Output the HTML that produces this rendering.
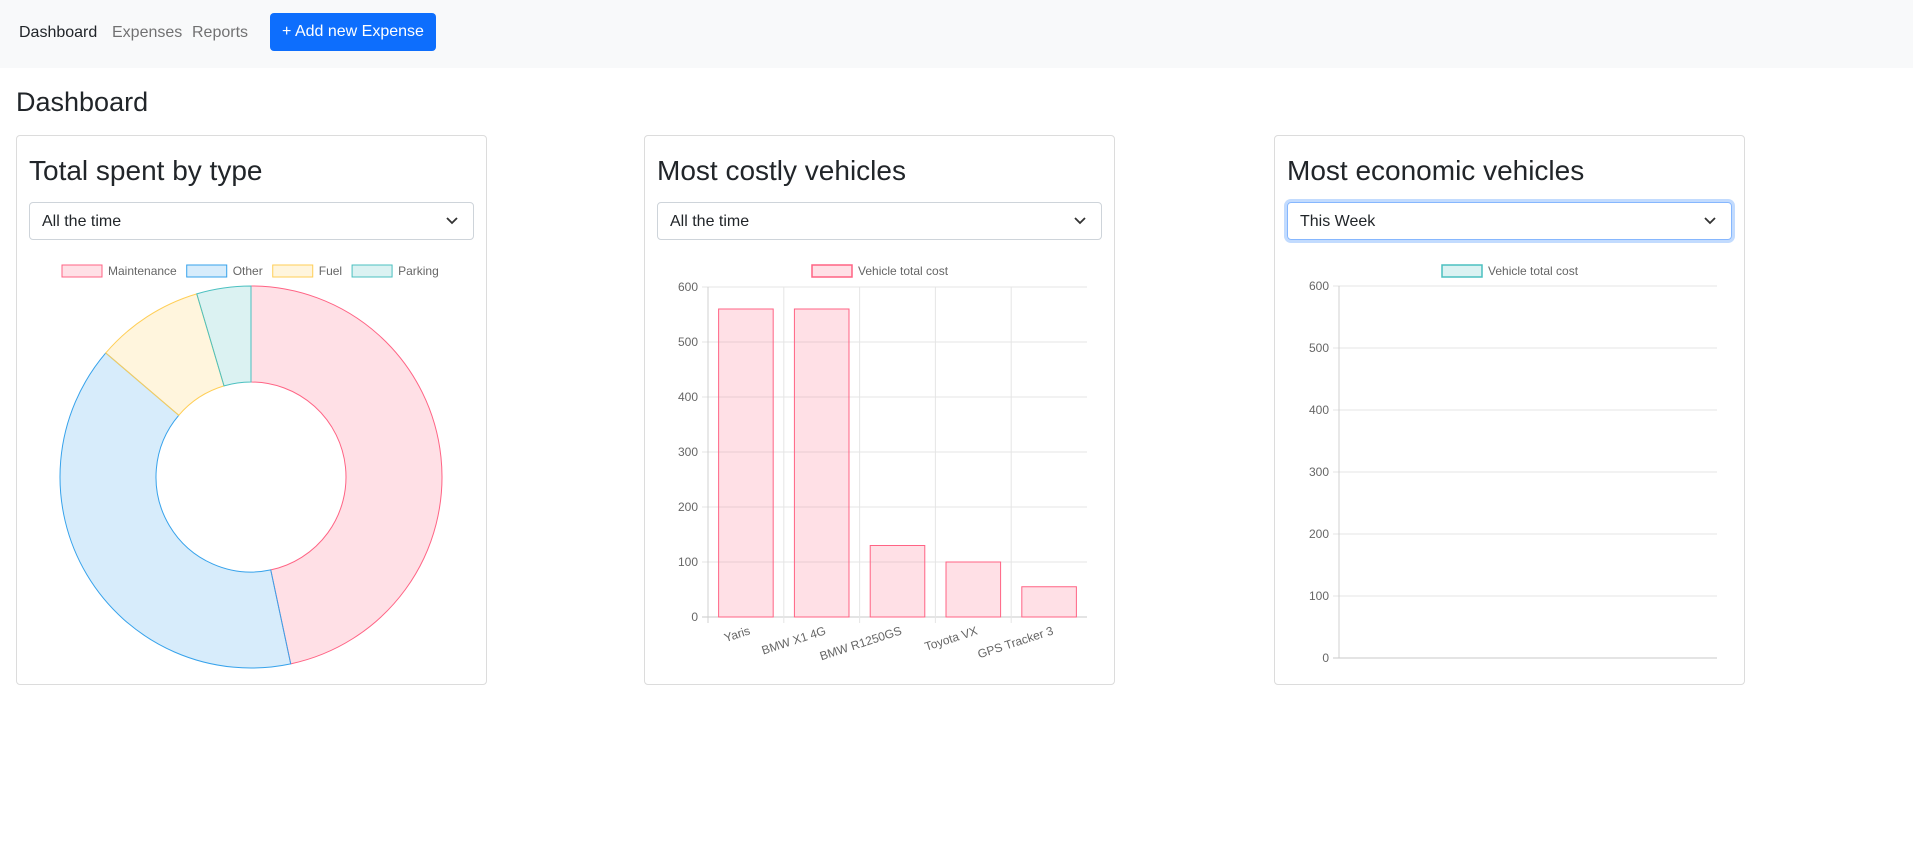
<!DOCTYPE html>
<html><head><meta charset="utf-8"><style>
*{box-sizing:border-box;margin:0;padding:0}
body{width:1913px;height:857px;background:#fff;font-family:"Liberation Sans",Arial,sans-serif;color:#212529;position:relative;overflow:hidden}
.nav{position:absolute;left:0;top:0;width:1913px;height:68px;background:#f8f9fa}
.nav a{position:absolute;top:24px;font-size:16px;color:rgba(0,0,0,.55);text-decoration:none}
.btn{position:absolute;left:270px;top:13px;width:166px;height:38px;background:#0d6efd;color:#fff;border-radius:4px;font-size:16px;line-height:38px;text-align:center}
h1{position:absolute;left:16px;top:87px;font-size:27px;font-weight:400}
.card{position:absolute;top:135px;height:550px;width:471px;border:1px solid #dcdcdc;border-radius:4px}
.card h2{position:absolute;left:12px;top:19px;font-size:28px;font-weight:400}
.sel{position:absolute;left:12px;top:66px;width:445px;height:38px;border:1px solid #ced4da;border-radius:4px;font-size:16px;line-height:38px;padding-left:12px}
.sel.focus{border-color:#86b7fe;box-shadow:0 0 0 3px rgba(13,110,253,.25)}
.sel svg{position:absolute;right:14px;top:13px}
svg.ch{position:absolute;left:0;top:0}
</style></head><body>
<div class="nav">
<a style="left:19px;color:#212529">Dashboard</a>
<a style="left:112px">Expenses</a>
<a style="left:192px">Reports</a>
<div class="btn">+ Add new Expense</div>
</div>
<h1>Dashboard</h1>
<div class="card" style="left:16px">
<h2>Total spent by type</h2>
<div class="sel">All the time<svg width="14" height="10" viewBox="0 0 14 10"><path d="M2 2l5 5 5-5" fill="none" stroke="#333" stroke-width="1.8"/></svg></div>
</div>
<div class="card" style="left:644px">
<h2>Most costly vehicles</h2>
<div class="sel">All the time<svg width="14" height="10" viewBox="0 0 14 10"><path d="M2 2l5 5 5-5" fill="none" stroke="#333" stroke-width="1.8"/></svg></div>
</div>
<div class="card" style="left:1274px">
<h2>Most economic vehicles</h2>
<div class="sel focus">This Week<svg width="14" height="10" viewBox="0 0 14 10"><path d="M2 2l5 5 5-5" fill="none" stroke="#333" stroke-width="1.8"/></svg></div>
</div>
<svg class="ch" id="svg" width="1913" height="857" font-family="Liberation Sans, Arial, sans-serif" font-size="12" fill="#666"></svg>
<script>
const donutLabels=["Maintenance","Other","Fuel","Parking"];
const donutValues=[560,475,110,55];
const barCategories=["Yaris","BMW X1 4G","BMW R1250GS","Toyota VX","GPS Tracker 3"];
const barValues=[560,560,130,100,55];
const yTicks=[0,100,200,300,400,500,600];
const econCategories=[];
const econValues=[];

const NS="http://www.w3.org/2000/svg";
const svg=document.getElementById('svg');
function mk(t,a,p){const e=document.createElementNS(NS,t);for(const k in a)e.setAttribute(k,a[k]);(p||svg).appendChild(e);return e;}
const fills=["rgba(255,99,132,0.2)","rgba(54,162,235,0.2)","rgba(255,206,86,0.2)","rgba(75,192,192,0.2)"];
const strokes=["rgb(255,99,132)","rgb(54,162,235)","rgb(255,206,86)","rgb(75,192,192)"];

const cx=251,cy=477,R=191,r=95;
const tot=donutValues.reduce((a,b)=>a+b,0);
let ang=0;
donutValues.forEach((v,i)=>{
  const a0=ang,a1=ang+v/tot*2*Math.PI;ang=a1;
  const P=(rad,a)=>[cx+rad*Math.sin(a),cy-rad*Math.cos(a)];
  const lg=(a1-a0)>Math.PI?1:0;
  const [x0,y0]=P(R,a0),[x1,y1]=P(R,a1),[x2,y2]=P(r,a1),[x3,y3]=P(r,a0);
  const p=mk('path',{d:`M${x0},${y0}A${R},${R} 0 ${lg} 1 ${x1},${y1}L${x2},${y2}A${r},${r} 0 ${lg} 0 ${x3},${y3}Z`,fill:fills[i],stroke:strokes[i],'stroke-width':1});
  
  
});
let lx=62;
donutLabels.forEach((l,i)=>{
  const b=mk('rect',{x:lx,y:265,width:40,height:12,fill:fills[i],stroke:strokes[i],'stroke-width':1});
  
  
  const t=mk('text',{x:lx+46,y:275});t.textContent=l;
  
  
  lx+=46+t.getComputedTextLength()+10;
});

function barChart(x0,x1,yTop,yBot,cats,vals,color,fill,legY,legX,vgrid){
  const ys=v=>yBot-(v/600)*(yBot-yTop);
  yTicks.forEach(t=>{
    const y=ys(t);
    const g=mk('line',{x1:x0-6,x2:x1,y1:y,y2:y,stroke:t===0?'#c8c8c8':'#e5e5e5'});
    
    
    const tx=mk('text',{x:x0-10,y:y+4,'text-anchor':'end'});tx.textContent=t;
    
    
  });
  const ax=mk('line',{x1:x0,x2:x0,y1:yTop,y2:yBot+(vgrid?6:0),stroke:'#d0d0d0'});
  
  
  const n=cats.length;
  if(n){
    const w=(x1-x0)/n;
    cats.forEach((c,i)=>{
      const gx=x0+w*(i+1);
      const vl=mk('line',{x1:gx,x2:gx,y1:yTop,y2:yBot+6,stroke:i===n-1?'none':'#e5e5e5'});
      
      
      const bw=w*0.72,bx=x0+w*i+(w-bw)/2,by=ys(vals[i]);
      const b=mk('rect',{x:bx,y:by,width:bw,height:yBot-by,fill:fill,stroke:color,'stroke-width':1});
      
      
      const lxp=x0+w*(i+0.5);
      const t=mk('text',{x:lxp+5,y:yBot+17,'text-anchor':'end',transform:`rotate(-18 ${lxp+5} ${yBot+17})`});t.textContent=c;
      
      
    });
  }
  const lb=mk('rect',{x:legX,y:legY-5,width:40,height:12,fill:fill,stroke:color,'stroke-width':1.5});
  
  
  const lt=mk('text',{x:legX+46,y:legY+5});lt.textContent='Vehicle total cost';
  
  
}
barChart(708,1087,287,617,barCategories,barValues,strokes[0],fills[0],270,812,true);
barChart(1339,1717,286,658,econCategories,econValues,strokes[3],fills[3],270,1442,false);
</script>
</body></html>
